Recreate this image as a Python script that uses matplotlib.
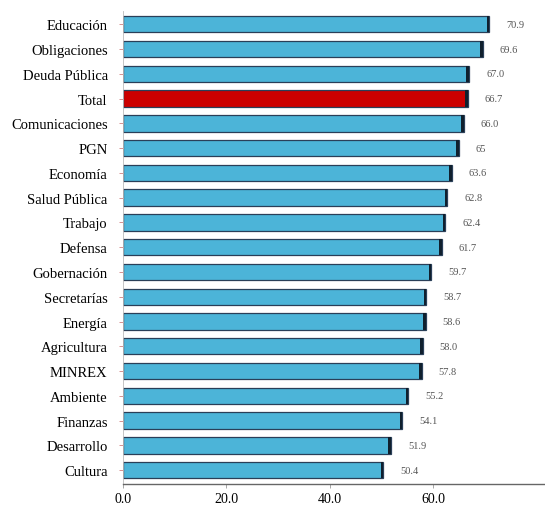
import numpy as np
import matplotlib.pyplot as plt

categories = ['Educación', 'Obligaciones', 'Deuda Pública', 'Total', 'Comunicaciones',
              'PGN', 'Economía', 'Salud Pública', 'Trabajo', 'Defensa', 'Gobernación',
              'Secretarías', 'Energía', 'Agricultura', 'MINREX', 'Ambiente', 'Finanzas',
              'Desarrollo', 'Cultura']
values = [70.9, 69.6, 67.0, 66.7, 66.0, 65.0, 63.6, 62.8, 62.4, 61.7, 59.7,
          58.7, 58.6, 58.0, 57.8, 55.2, 54.1, 51.9, 50.4]
value_labels = ['70.9', '69.6', '67.0', '66.7', '66.0', '65', '63.6', '62.8', '62.4', '61.7',
                '59.7', '58.7', '58.6', '58.0', '57.8', '55.2', '54.1', '51.9', '50.4']
xticks = [0, 20, 40, 60]

plt.rcParams['font.family'] = ['Liberation Serif', 'DejaVu Serif']

fig = plt.figure(figsize=(5.45, 5.06), dpi=100)
ax = fig.add_axes([0.2257, 0.0415, 0.7743, 0.9345])

n = len(categories)
y = np.arange(n)[::-1]
vals = np.array(values)
colors = ['#cc0000' if c == 'Total' else '#4cb4d8' for c in categories]

ax.barh(y, vals, height=0.66, color=colors, edgecolor='#2a3f58', linewidth=0.9)
# dark shadow at the end of each bar
ax.barh(y, 0.5, left=vals - 0.5, height=0.66, color='#10202e', linewidth=0)

for yi, v, lab in zip(y, vals, value_labels):
    ax.text(v + 3.3, yi, lab, va='center', ha='left', fontsize=7.5, color='#555555')

ax.set_xlim(0, 81.7)
ax.set_ylim(-0.56, n - 1 + 0.53)
ax.set_yticks(y)
ax.set_yticklabels(categories, fontsize=10.5)
ax.set_xticks(xticks)
ax.set_xticklabels([f'{t:.1f}' for t in xticks], fontsize=10)

for s in ['top', 'right']:
    ax.spines[s].set_visible(False)
ax.spines['left'].set_color('#bbbbbb')
ax.spines['left'].set_linewidth(0.6)
ax.spines['bottom'].set_color('#666666')
ax.spines['bottom'].set_linewidth(1.0)
ax.tick_params(axis='y', length=3, width=0.6, color='#d08080', pad=8)
ax.tick_params(axis='x', length=3, width=0.6, color='#999999', pad=3)

fig.savefig('out.png', dpi=100)
